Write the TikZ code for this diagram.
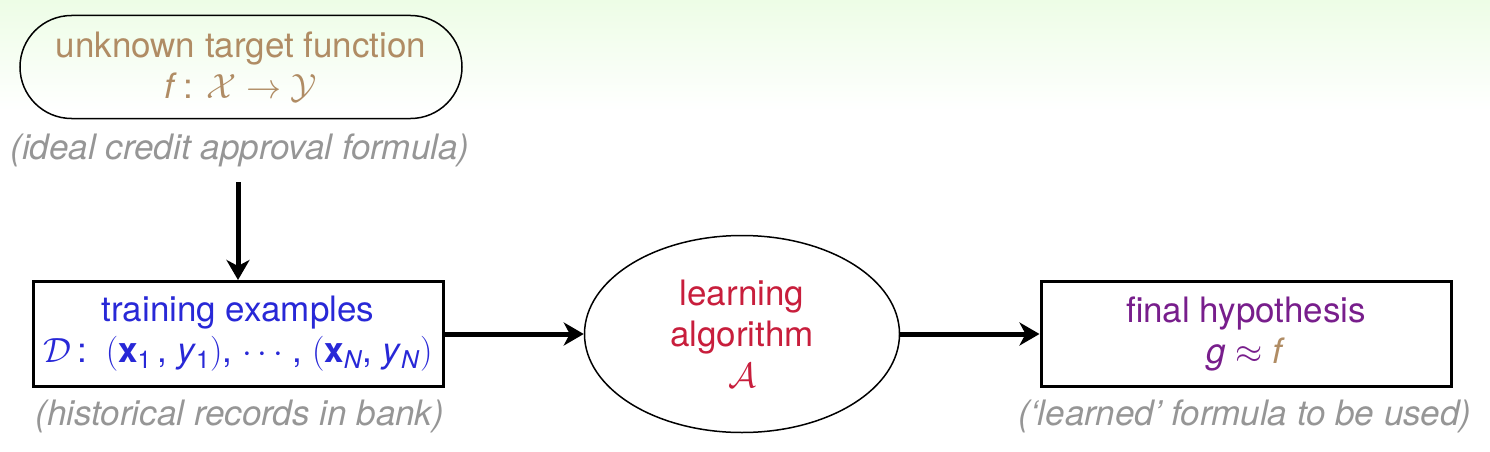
\RequirePackage{fix-cm}
\documentclass[tikz,border=0pt]{standalone}
\usepackage{fontspec}
\setmainfont{TeX Gyre Heros}
\usetikzlibrary{shapes.misc,shapes.geometric,arrows.meta}
\definecolor{bggreen}{RGB}{237,253,230}
\definecolor{tbrown}{RGB}{176,140,100}
\definecolor{tblue}{RGB}{40,40,215}
\definecolor{tred}{RGB}{200,30,60}
\definecolor{tpurple}{RGB}{120,30,140}
\definecolor{tgray}{RGB}{150,150,150}
\begin{document}
\begin{tikzpicture}[x=1pt,y=1pt,
  every node/.style={font=\fontsize{35}{41}\selectfont, align=center, inner sep=0pt},
  note/.style={text=tgray, font=\fontsize{35}{41}\selectfont\itshape},
  bigarrow/.style={line width=5pt, -{Stealth[length=20pt,width=23pt,inset=6pt]}},
  databox/.style={draw, line width=3pt, minimum width=410pt, minimum height=105pt},
  thinshape/.style={draw, line width=1.5pt}
]
\useasboundingbox (0,0) rectangle (1490,-452);
\fill[white] (0,0) rectangle (1490,-452);
\shade[top color=bggreen, bottom color=white] (0,0) rectangle (1490,-112);

\node[rounded rectangle, thinshape, minimum width=442pt, minimum height=103pt, text=tbrown] (target) at (241,-67)
  {unknown target function\\ \textit{f}\,: $\mathcal{X}\to\mathcal{Y}$};
\node[note] (tnote) at (240,-150) {(ideal credit approval formula)};

\node[databox, text=tblue] (train) at (238,-334)
  {training examples\\ $\mathcal{D}$\,: \,$($\textbf{x}\textsubscript{1}\,, \textit{y}\textsubscript{1}$)$, $\cdots$\ , $($\textbf{x}\textsubscript{\textit{N}}, \textit{y}\textsubscript{\textit{N}}$)$};
\node[note] (trnote) at (240,-416) {(historical records in bank)};

\node[ellipse, thinshape, minimum width=315pt, minimum height=197pt, text=tred] (alg) at (742,-334)
  {learning\\ algorithm\\ $\mathcal{A}$};

\node[databox, text=tpurple] (final) at (1246,-334)
  {final hypothesis\\ \textit{g} $\approx$ \textcolor{tbrown}{\textit{f}}};
\node[note] (fnote) at (1245,-416) {(`learned' formula to be used)};

\coordinate (a0) at (238,-182);
\draw[bigarrow] (a0) -- (train.north);
\draw[bigarrow] (train.east) -- (alg.west);
\draw[bigarrow] (alg.east) -- (final.west);
\end{tikzpicture}
\end{document}
